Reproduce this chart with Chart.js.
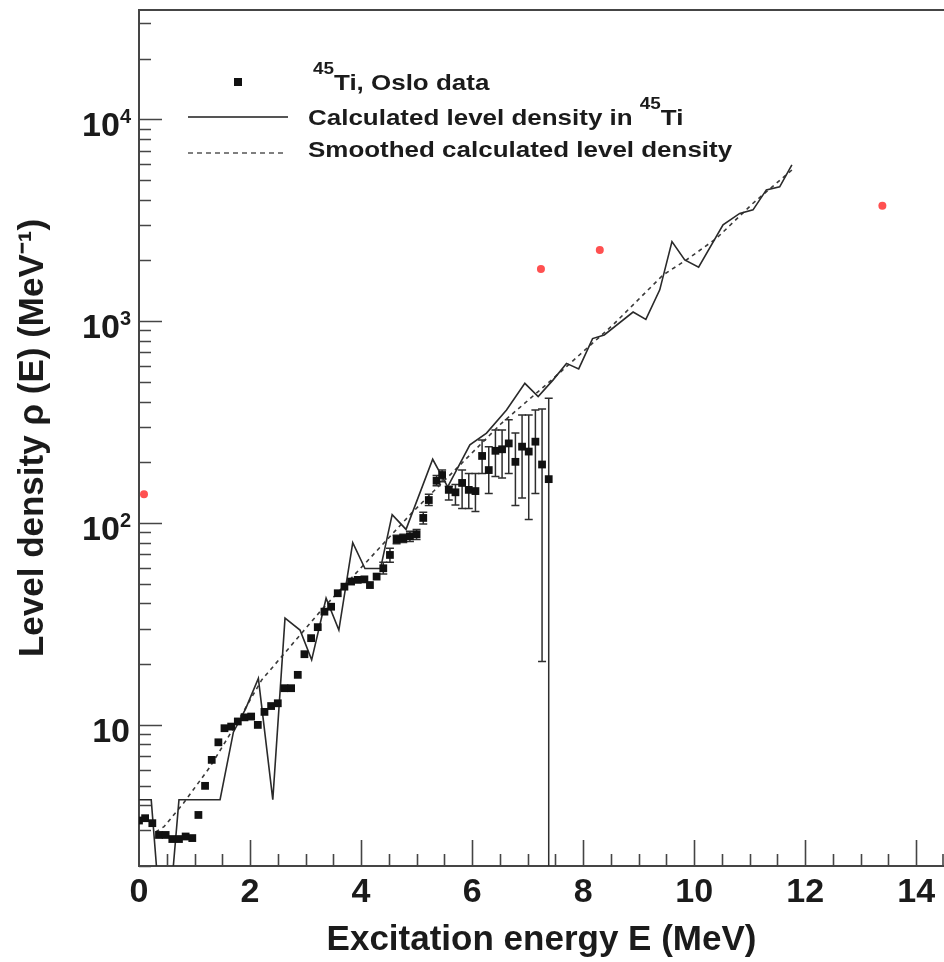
<!DOCTYPE html>
<html>
<head>
<meta charset="utf-8">
<title>45Ti level density</title>
<script src="https://cdn.jsdelivr.net/npm/chart.js@4.4.1/dist/chart.umd.min.js"></script>
<style>
  html, body { margin: 0; padding: 0; background: #fff; }
  canvas { display: block; }
</style>
</head>
<body>
<canvas id="levelChart" width="944" height="962"></canvas>
<script>
// Oslo data points (E in MeV, rho in 1/MeV) with error bar ends
var osloE = [0.00,0.11,0.24,0.36,0.48,0.60,0.72,0.84,0.96,1.07,1.19,1.31,1.43,1.54,1.66,1.78,1.90,2.02,2.14,2.26,2.38,2.50,2.62,2.74,2.86,2.98,3.10,3.22,3.34,3.46,3.58,3.70,3.82,3.94,4.06,4.16,4.28,4.40,4.52,4.64,4.76,4.88,5.00,5.12,5.22,5.36,5.46,5.58,5.70,5.82,5.94,6.06,6.18,6.30,6.42,6.54,6.66,6.78,6.90,7.02,7.14,7.26,7.38];
var osloRho = [3.36,3.45,3.26,2.85,2.85,2.72,2.72,2.80,2.75,3.58,4.99,6.71,8.2,9.63,9.81,10.4,10.9,11.0,10.0,11.6,12.4,12.8,15.2,15.2,17.7,22.4,26.9,30.5,36.4,38.5,44.9,48.4,51.3,52.3,52.6,49.3,54.3,59.7,69.5,83,84,86,88,106,130,162,173,146,142,158,146,144,215,183,228,232,248,201,239,226,253,195,165];
var osloLow = [null,null,null,null,null,null,null,null,null,null,null,null,null,null,null,null,null,null,null,null,null,null,null,null,null,null,null,null,null,null,null,null,null,null,null,null,null,56,64,79,80,81,83,99,122,153,160,130,123,118,118,114,176,140,170,167,176,122,133,104,140,20.6,1];
var osloHigh = [null,null,null,null,null,null,null,null,null,null,null,null,null,null,null,null,null,null,null,null,null,null,null,null,null,null,null,null,null,null,null,null,null,null,null,null,null,64,75,87,88,91,93,113,139,172,183,152,155,183,176,176,258,239,289,289,325,279,343,343,363,367,415];

// calculated level density (solid)
var calcE = [0,0.22,0.35,0.58,0.72,1.46,1.70,1.92,2.15,2.41,2.63,2.90,3.11,3.37,3.60,3.85,4.07,4.35,4.56,4.81,5.29,5.56,5.96,6.26,6.62,6.95,7.19,7.46,7.70,7.92,8.17,8.38,8.90,9.13,9.38,9.60,9.83,10.08,10.52,10.82,11.06,11.30,11.54,11.76];
var calcRho = [4.26,4.26,1.5,1.5,4.26,4.26,9.2,12.0,17.0,4.26,33.8,29.5,21,42.4,29.5,80,59.5,59.5,110,93,207,151,244,279,363,492,423,512,618,580,820,855,1110,1020,1430,2480,2010,1850,3000,3420,3560,4470,4630,5950];

// smoothed calculated level density (dashed)
var smoothE = [0.30,0.45,0.80,1.28,1.76,2.21,2.57,3.29,4.13,4.91,5.75,6.53,7.43,8.54,9.44,9.86,10.40,11.06,11.76];
var smoothRho = [2.95,3.13,4.09,6.2,10.2,16.7,21.8,37.2,65.6,112,190,312,511,960,1694,2011,2570,3840,5610];

// red points
var redE = [0.09,7.24,8.30,13.39];
var redRho = [139,1815,2255,3733];

// axes
var xTickValues = [0,2,4,6,8,10,12,14];
var xTickLabels = ['0','2','4','6','8','10','12','14'];
var yTickValues = [10,100,1000,10000];
var yTickBase = ['10','10','10','10'];
var yTickExp = ['','2','3','4'];
var xTitle = 'Excitation energy E (MeV)';
var yTitle = 'Level density \u03c1 (E) (MeV\u207b\u00b9)';
var legendLabels = ['Ti, Oslo data', 'Calculated level density in ', 'Smoothed calculated level density'];

var FONT = "'Liberation Sans', Arial, Helvetica, sans-serif";
var ink = '#1b1b1b';
var axisColor = '#454545';

Chart.defaults.font.family = FONT;

function pts(xs, ys) {
  return xs.map(function (x, i) { return { x: x, y: ys[i] }; });
}

// draws a run of text pieces, horizontally stretched
function richText(ctx, x, y, parts, stretch) {
  ctx.save();
  ctx.translate(x, y);
  ctx.scale(stretch, 1);
  var cx = 0;
  parts.forEach(function (p) {
    ctx.font = 'bold ' + p.size + 'px ' + FONT;
    ctx.fillText(p.text, cx, -(p.raise || 0));
    cx += ctx.measureText(p.text).width;
  });
  ctx.restore();
}

var frame = {
  id: 'frame',
  beforeDatasetsDraw: function (chart) {
    var ctx = chart.ctx, sx = chart.scales.x, sy = chart.scales.y, a = chart.chartArea;
    ctx.save();
    ctx.beginPath();
    ctx.rect(a.left, a.top, a.right - a.left, a.bottom - a.top);
    ctx.clip();
    ctx.strokeStyle = '#2e2e2e';
    ctx.lineWidth = 1.5;
    osloE.forEach(function (e, i) {
      if (osloLow[i] == null) return;
      var px = sx.getPixelForValue(e);
      var y1 = sy.getPixelForValue(osloLow[i]);
      var y2 = sy.getPixelForValue(osloHigh[i]);
      ctx.beginPath();
      ctx.moveTo(px, y1); ctx.lineTo(px, y2);
      ctx.moveTo(px - 4, y1); ctx.lineTo(px + 4, y1);
      ctx.moveTo(px - 4, y2); ctx.lineTo(px + 4, y2);
      ctx.stroke();
    });
    ctx.restore();
  },
  afterDraw: function (chart) {
    var ctx = chart.ctx, sx = chart.scales.x, sy = chart.scales.y, a = chart.chartArea;
    ctx.save();
    // top frame line
    ctx.strokeStyle = axisColor;
    ctx.lineWidth = 2;
    ctx.beginPath();
    ctx.moveTo(a.left, a.top);
    ctx.lineTo(a.right, a.top);
    ctx.stroke();

    // tick marks drawn inward
    ctx.lineWidth = 1.6;
    ctx.beginPath();
    for (var p = 0; p <= 4; p++) {
      for (var m = 1; m <= 9; m++) {
        var v = m * Math.pow(10, p);
        if (v < sy.min || v > sy.max) continue;
        var py = Math.round(sy.getPixelForValue(v)) + 0.5;
        ctx.moveTo(a.left, py);
        ctx.lineTo(a.left + (m === 1 ? 23 : 12), py);
      }
    }
    for (var t = 0.5; t <= sx.max; t += 0.5) {
      var px = Math.min(Math.round(sx.getPixelForValue(t)) + 0.5, a.right - 1);
      ctx.moveTo(px, a.bottom);
      ctx.lineTo(px, a.bottom - (t % 2 === 0 ? 26 : 12));
    }
    ctx.stroke();

    // y tick labels with superscripts
    ctx.fillStyle = ink;
    ctx.textBaseline = 'alphabetic';
    ctx.textAlign = 'left';
    yTickValues.forEach(function (v, i) {
      var py = sy.getPixelForValue(v) + 17;
      ctx.font = 'bold 34px ' + FONT;
      var wb = ctx.measureText(yTickBase[i]).width;
      ctx.font = 'bold 20px ' + FONT;
      var we = yTickExp[i] ? ctx.measureText(yTickExp[i]).width : 0;
      var right = yTickExp[i] ? 131 : 130;
      var start = right - wb - we;
      ctx.font = 'bold 34px ' + FONT;
      ctx.fillText(yTickBase[i], start, py);
      if (yTickExp[i]) {
        ctx.font = 'bold 20px ' + FONT;
        ctx.fillText(yTickExp[i], start + wb, py - 13);
      }
    });

    // legend
    ctx.fillStyle = '#111';
    ctx.fillRect(234, 78, 8, 8);
    ctx.strokeStyle = '#555';
    ctx.lineWidth = 2;
    ctx.beginPath();
    ctx.moveTo(188, 117); ctx.lineTo(288, 117);
    ctx.stroke();
    ctx.setLineDash([5, 4]);
    ctx.lineWidth = 1.5;
    ctx.beginPath();
    ctx.moveTo(188, 153); ctx.lineTo(285, 153);
    ctx.stroke();
    ctx.setLineDash([]);
    ctx.fillStyle = ink;
    richText(ctx, 313, 90, [{ text: '45', size: 16, raise: 16 }, { text: legendLabels[0], size: 22 }], 1.18);
    richText(ctx, 308, 125, [{ text: legendLabels[1], size: 22 }, { text: '45', size: 16, raise: 16 }, { text: 'Ti', size: 22 }], 1.18);
    richText(ctx, 308, 157, [{ text: legendLabels[2], size: 22 }], 1.18);
    ctx.restore();
  }
};

var ctx = document.getElementById('levelChart').getContext('2d');
var levelChart = new Chart(ctx, {
  type: 'scatter',
  data: {
    datasets: [{
      label: 'Oslo data',
      data: pts(osloE, osloRho),
      showLine: false,
      pointStyle: 'rect',
      pointRadius: 5.5,
      backgroundColor: '#111',
      borderColor: '#111',
      borderWidth: 0
    }, {
      label: 'Calculated level density',
      data: pts(calcE, calcRho),
      showLine: true,
      borderColor: '#2a2a2a',
      borderWidth: 1.6,
      pointRadius: 0,
      tension: 0
    }, {
      label: 'Smoothed calculated level density',
      data: pts(smoothE, smoothRho),
      showLine: true,
      borderColor: '#3a3a3a',
      borderWidth: 1.6,
      borderDash: [4, 4],
      pointRadius: 0,
      tension: 0
    }, {
      label: 'red',
      data: pts(redE, redRho),
      showLine: false,
      pointRadius: 4,
      backgroundColor: 'rgb(255,80,80)',
      borderWidth: 0
    }]
  },
  options: {
    responsive: false,
    animation: false,
    devicePixelRatio: 1,
    events: [],
    layout: { autoPadding: false, padding: { top: 10, right: 0, bottom: 0, left: 0 } },
    plugins: {
      legend: { display: false },
      tooltip: { enabled: false }
    },
    scales: {
      x: {
        type: 'linear',
        min: 0,
        max: 14.5,
        grid: { display: false, drawTicks: false },
        border: { display: true, color: axisColor, width: 2 },
        afterBuildTicks: function (s) { s.ticks = xTickValues.map(function (v) { return { value: v }; }); },
        ticks: {
          padding: 6,
          color: ink,
          autoSkip: false,
          maxRotation: 0,
          font: { size: 34, weight: 'bold' },
          callback: function (v, i) { return xTickLabels[i]; }
        },
        title: {
          display: true,
          text: xTitle,
          color: ink,
          font: { size: 35, weight: 'bold' },
          padding: { top: 0, bottom: 1 }
        },
        afterFit: function (s) {
          s.height = 96;
          s.paddingLeft = 0;
          s.paddingRight = 0;
        }
      },
      y: {
        type: 'logarithmic',
        min: 2,
        max: 34800,
        grid: { display: false, drawTicks: false },
        border: { display: true, color: axisColor, width: 2 },
        ticks: { display: false },
        title: {
          display: true,
          text: yTitle,
          color: ink,
          font: { size: 35, weight: 'bold' },
          padding: { top: 12, bottom: 0 }
        },
        afterFit: function (s) {
          s.width = 139;
          s.paddingTop = 0;
          s.paddingBottom = 0;
        }
      }
    }
  },
  plugins: [frame]
});
</script>
</body>
</html>
